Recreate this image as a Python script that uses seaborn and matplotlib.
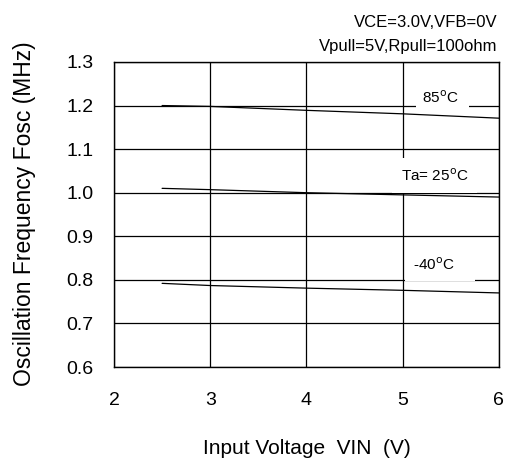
import seaborn as sns
from matplotlib import pyplot as plt
import pandas as pd

sns.set_theme(style="white")
plt.rcParams['font.family'] = ['Liberation Sans', 'DejaVu Sans']
plt.rcParams['text.color'] = 'black'
plt.rcParams['axes.labelcolor'] = 'black'

vin = [2.5, 3.0, 4.0, 5.0, 6.0]
f_85 = [1.200, 1.198, 1.189, 1.181, 1.171]
f_25 = [1.010, 1.007, 1.000, 0.995, 0.990]
f_m40 = [0.792, 0.787, 0.781, 0.776, 0.770]
temps = ['85°C', 'Ta= 25°C', '-40°C']

df = pd.DataFrame({
    'vin': vin * 3,
    'fosc': f_85 + f_25 + f_m40,
    'temp': [temps[0]] * 5 + [temps[1]] * 5 + [temps[2]] * 5,
})

fig, ax = plt.subplots(figsize=(5.08, 4.59), dpi=100)
fig.subplots_adjust(left=0.2244, right=0.982, top=0.865, bottom=0.2004)

sns.lineplot(data=df, x='vin', y='fosc', units='temp', estimator=None,
             color='black', linewidth=0.9, ax=ax)

ax.set_xlim(2, 6)
ax.set_ylim(0.6, 1.3)
ax.set_xticks([2, 3, 4, 5, 6])
ax.set_yticks([0.6, 0.7, 0.8, 0.9, 1.0, 1.1, 1.2, 1.3])
ax.set_yticklabels(['0.6', '0.7', '0.8', '0.9', '1.0', '1.1', '1.2', '1.3'])
ax.grid(True, color='black', linewidth=0.9)
ax.set_axisbelow(True)
for s in ax.spines.values():
    s.set_color('black')
    s.set_linewidth(1.0)
ax.tick_params(labelsize=14, colors='black', length=0)
ax.tick_params(axis='x', pad=18)
ax.tick_params(axis='y', pad=15)

ax.set_xlabel('Input Voltage  VIN  (V)', fontsize=15)
ax.set_ylabel('Oscillation Frequency Fosc (MHz)', fontsize=16.5)
ax.xaxis.set_label_coords(0.5, -0.235)
ax.yaxis.set_label_coords(-0.203, 0.503)

# curve labels with white boxes that cut the gridlines
ax.text(5.2, 1.218, '85$^{\\rm o}$C  ', fontsize=11, ha='left', va='center',
        bbox=dict(facecolor='white', edgecolor='none', pad=4))
ax.text(4.98, 1.04, 'Ta= 25$^{\\rm o}$C', fontsize=11, ha='left', va='center',
        bbox=dict(facecolor='white', edgecolor='none', pad=6.5))
ax.text(5.107, 0.835, '-40$^{\\rm o}$C    ', fontsize=11, ha='left', va='center',
        bbox=dict(facecolor='white', edgecolor='none', pad=5.5))

fig.text(0.98, 0.952, 'VCE=3.0V,VFB=0V', fontsize=12, ha='right', va='center')
fig.text(0.979, 0.898, 'Vpull=5V,Rpull=100ohm', fontsize=12, ha='right', va='center')

plt.savefig('out.png', dpi=100)
